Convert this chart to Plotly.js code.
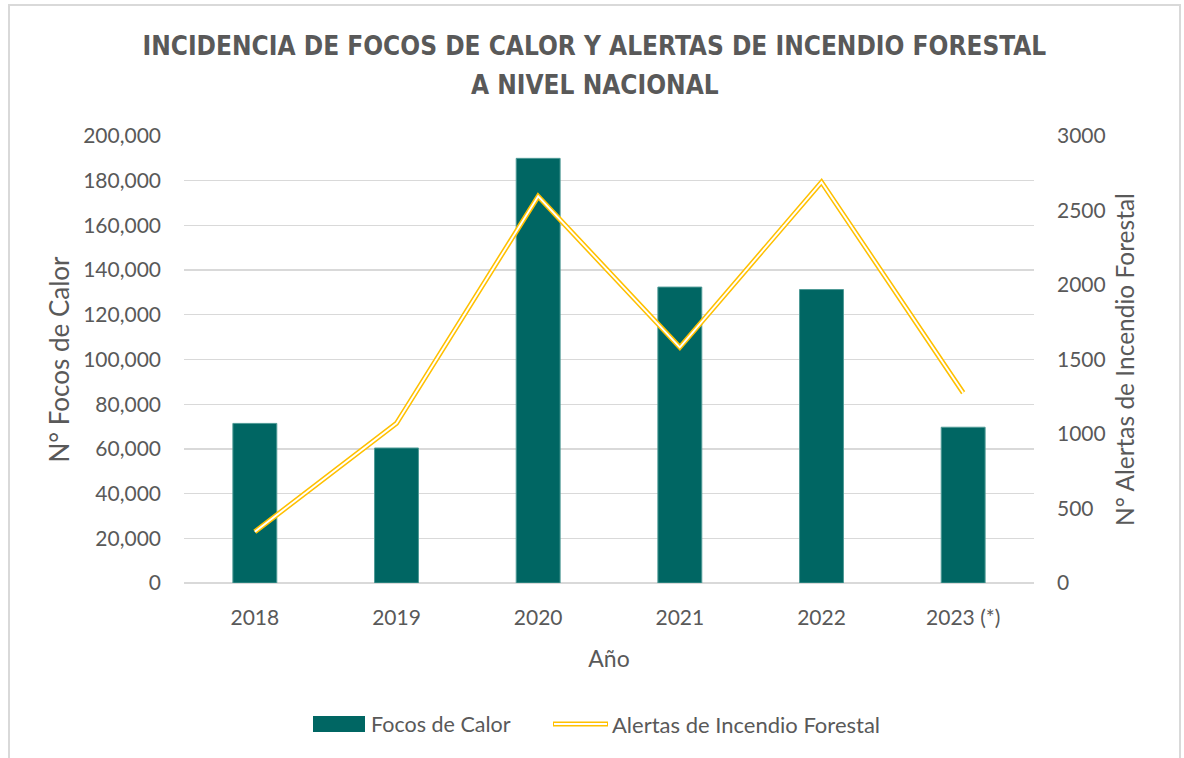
<!DOCTYPE html>
<html>
<head>
<meta charset="utf-8">
<script src="https://cdn.plot.ly/plotly-3.0.1.min.js"></script>
<style>
  html, body { margin: 0; padding: 0; background: #ffffff; }
  #chart { width: 1184px; height: 758px; }
  #frame { position: absolute; left: 8px; top: 4px; width: 1169px; height: 800px;
           border: 2px solid #d9d9d9; pointer-events: none; }
</style>
</head>
<body>
<div id="chart"></div>
<div id="frame"></div>
<script>
// ---- data ----
const years = ["2018", "2019", "2020", "2021", "2022", "2023 (*)"];
const focosDeCalor = [71400, 60400, 190000, 132400, 131300, 69700];
const alertasIncendio = [344, 1072, 2595, 1582, 2690, 1277];
const yLeftTicks = [0, 20000, 40000, 60000, 80000, 100000, 120000, 140000, 160000, 180000, 200000];
const yRightTicks = [0, 500, 1000, 1500, 2000, 2500, 3000];
const titleLines = ['INCIDENCIA DE FOCOS DE CALOR Y ALERTAS DE INCENDIO FORESTAL', 'A NIVEL NACIONAL'];

const txt = '#595959';
const baseFont = 'Lato, "Open Sans", sans-serif';
const titleFont = '"Liberation Sans Narrow", "DejaVu Sans Condensed", "Arial Narrow", sans-serif';
const barColor = '#006663';
const lineColor = '#FFC000';

const traces = [
  {
    type: 'bar', x: years, y: focosDeCalor, name: 'Focos de Calor',
    width: 0.31,
    marker: { color: barColor, line: { color: '#4f9a96', width: 1 } },
    showlegend: false, hoverinfo: 'x+y'
  },
  {
    type: 'scatter', mode: 'lines', x: years, y: alertasIncendio, yaxis: 'y2',
    name: 'Alertas de Incendio Forestal',
    line: { color: lineColor, width: 5 }, showlegend: false
  },
  {
    type: 'scatter', mode: 'lines', x: years, y: alertasIncendio, yaxis: 'y2',
    name: 'Alertas de Incendio Forestal (inner)',
    line: { color: '#ffffff', width: 1.9 }, showlegend: false, hoverinfo: 'skip'
  }
];

// manual legend (paper coords relative to plot area 184..1034 x, 136..583 y)
const L = 184, R = 1034, T = 136, B = 583;
const px = v => (v - L) / (R - L);
const py = v => (B - v) / (B - T);

const layout = {
  width: 1184, height: 758,
  margin: { l: 184, r: 150, t: 136, b: 175 },
  paper_bgcolor: '#ffffff', plot_bgcolor: '#ffffff',
  font: { family: baseFont, color: txt, size: 21 },
  title: {
    text: titleLines[0],
    font: { family: titleFont, size: 26, color: txt, weight: 'bold' },
    x: 0.502, xanchor: 'center', xref: 'container',
    y: 1 - 46 / 758, yanchor: 'middle', yref: 'container'
  },
  xaxis: {
    type: 'category', range: [-0.5, 5.5],
    showline: false, showgrid: false, zeroline: false,
    ticks: '', ticklabelstandoff: 20,
    tickfont: { family: baseFont, size: 21, color: txt },
    title: { text: 'Año', font: { family: baseFont, size: 23, color: txt }, standoff: 22 }
  },
  yaxis: {
    range: [0, 200000], tickvals: yLeftTicks, tickformat: ',d',
    showgrid: true, gridcolor: '#d9d9d9', gridwidth: 1.4,
    zeroline: true, zerolinecolor: '#d9d9d9', zerolinewidth: 1.4,
    showline: false, ticks: '', ticklabelstandoff: 22,
    tickfont: { family: baseFont, size: 21, color: txt },
    title: { text: 'N° Focos de Calor', font: { family: baseFont, size: 26, color: txt }, standoff: 6 }
  },
  yaxis2: {
    range: [0, 3000], tickvals: yRightTicks, overlaying: 'y', side: 'right',
    showgrid: false, zeroline: false, showline: false, ticks: '', ticklabelstandoff: 22,
    tickfont: { family: baseFont, size: 21, color: txt },
    title: { text: 'N° Alertas de Incendio Forestal', font: { family: baseFont, size: 24.5, color: txt }, standoff: 12 }
  },
  shapes: [
    { type: 'rect', xref: 'paper', yref: 'paper', x0: px(313), x1: px(365), y0: py(716), y1: py(732),
      fillcolor: barColor, line: { width: 0 } },
    { type: 'line', xref: 'paper', yref: 'paper', x0: px(553), x1: px(608), y0: py(724), y1: py(724),
      line: { color: lineColor, width: 5 } },
    { type: 'line', xref: 'paper', yref: 'paper', x0: px(554), x1: px(607), y0: py(724), y1: py(724),
      line: { color: '#ffffff', width: 1.9 } }
  ],
  annotations: [
    { xref: 'paper', yref: 'paper', x: px(595), y: py(85), xanchor: 'center', yanchor: 'middle',
      text: titleLines[1], showarrow: false,
      font: { family: titleFont, size: 26, color: txt, weight: 'bold' } },
    { xref: 'paper', yref: 'paper', x: px(369), y: py(724), xanchor: 'left', yanchor: 'middle',
      text: 'Focos de Calor', showarrow: false, font: { family: baseFont, size: 21.5, color: txt } },
    { xref: 'paper', yref: 'paper', x: px(610), y: py(724), xanchor: 'left', yanchor: 'middle',
      text: 'Alertas de Incendio Forestal', showarrow: false, font: { family: baseFont, size: 22, color: txt } }
  ],
  showlegend: false,
  bargap: 0.69
};

Plotly.newPlot('chart', traces, layout, { displayModeBar: false, staticPlot: true });
</script>
</body>
</html>
